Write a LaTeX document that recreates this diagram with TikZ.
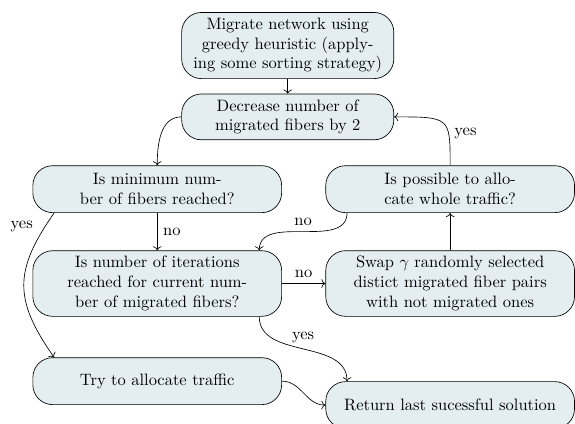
\documentclass[tikz,border=0pt]{standalone}
\usepackage{amsmath,amssymb}
\usepackage{tikz}
\usetikzlibrary{positioning,calc,arrows.meta}
\usepackage{xcolor}
\definecolor{boxfill}{RGB}{228,237,240}

\begin{document}
\begin{tikzpicture}[
    block/.style={rectangle,draw,fill=boxfill,rounded corners=12pt,
        align=center,minimum width=4.52cm},
    wide/.style={block,minimum width=5.3cm,minimum height=1cm}
    ]
% Cadre de la figure
\useasboundingbox (0,0) rectangle (12.25,-9.03);

% Noeuds de l'algorithme
\node[block] (migrate) at (6.13,-0.97) {Migrate network using\\greedy heuristic (apply-\\ing some sorting strategy)};
\node[block] (decrease) at (6.13,-2.49) {Decrease number of\\migrated fibers by 2};
\node[wide] (minimum) at (3.35,-4.03) {Is minimum num-\\ber of fibers reached?};
\node[wide] (possible) at (9.59,-4.03) {Is possible to allo-\\cate whole traffic?};
\node[wide] (iterations) at (3.35,-6.04) {Is number of iterations\\reached for current num-\\ber of migrated fibers?};
\node[wide] (swap) at (9.59,-6.04) {Swap $\gamma$ randomly selected\\distict migrated fiber pairs\\with not migrated ones};
\node[wide] (try) at (3.35,-8.12) {Try to allocate traffic};
\node[wide] (return) at (9.59,-8.63) {Return last sucessful solution};

% Fleches
\draw[->] (migrate) -- (decrease);
\draw[->] (decrease.west) to[out=180,in=90] (minimum.north);
\draw[->] (minimum) -- node[right] {no} (iterations);
\draw[->] (minimum.193) to[out=235,in=125,looseness=1.25] node[pos=0.08,left=4pt] {yes} (try.167);
\draw[->] (iterations) -- node[above] {no} (swap);
\draw[->] (swap) -- (possible);
\draw[->] (possible.north) .. controls (possible.north |- decrease.east) .. node[pos=0.3,right] {yes} (decrease.east);
\draw[->] (possible.193) to[out=270,in=90] node[above] {no} (iterations.18);
\draw[->] (iterations.-18) to[out=270,in=90] node[above] {yes} (return.167);
\draw[->] (try.east) to[out=0,in=180] (return.west);
\end{tikzpicture}
\end{document}
